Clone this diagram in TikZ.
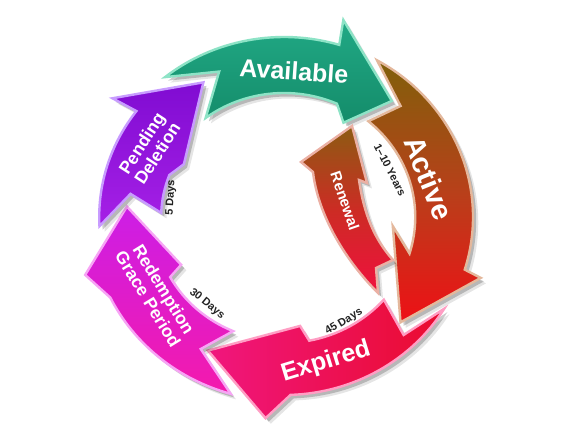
\documentclass[tikz,border=0pt]{standalone}
\usepackage{fontspec}
\setmainfont{Liberation Sans}
\definecolor{availT}{HTML}{21A985}
\definecolor{availB}{HTML}{148C6A}
\definecolor{rimA}{HTML}{8DE3C6}
\definecolor{actT}{HTML}{80600A}
\definecolor{actM}{HTML}{B8401A}
\definecolor{actB}{HTML}{EE1016}
\definecolor{rimAct}{HTML}{E4B89C}
\definecolor{expL}{HTML}{F0167E}
\definecolor{expR}{HTML}{EA0C2E}
\definecolor{rimExp}{HTML}{FF9EC4}
\definecolor{redT}{HTML}{CC1EE6}
\definecolor{redB}{HTML}{F41AAC}
\definecolor{rimRed}{HTML}{F7A4F5}
\definecolor{penT}{HTML}{800CD2}
\definecolor{penB}{HTML}{A620E6}
\definecolor{rimPen}{HTML}{C89CFF}
\definecolor{renT}{HTML}{8C5C12}
\definecolor{renM}{HTML}{CC2C24}
\definecolor{renB}{HTML}{F0103E}
\definecolor{rimRen}{HTML}{EBB0A4}
\definecolor{smalltxt}{HTML}{222222}

% ring arrows (polar, centre of ring)
\newcommand\ArrAvail[1]{\path[#1] (129:180) arc[start angle=129,end angle=73,radius=180] -- (74:205) -- (48.5:155) -- (59:110) -- (66:124) arc[start angle=66,end angle=127,radius=124] -- (113:158) -- cycle;}
\newcommand\ArrActive[1]{\path[#1] (60.5:180) arc[start angle=60.5,end angle=-17,radius=180] -- (-18:197) -- (-43.5:153) -- (-5:104) -- (-17:125) arc[start angle=-17,end angle=50,radius=125] -- (45:157) -- cycle;}
\newcommand\ArrExp[1]{\path[#1] (-31:178) arc[start angle=-31,end angle=-88,radius=178] -- (-95:202) -- (-118.5:152) -- (-82:110) -- (-79:126) arc[start angle=-79,end angle=-41,radius=126] -- (-46:164) -- cycle;}
\newcommand\ArrRed[1]{\path[#1] (-106:184) arc[start angle=-106,end angle=-154,radius=184] -- (-163:198) -- (-184:150) -- (-154:109) -- (-151:124) arc[start angle=-151,end angle=-113,radius=124] -- (-121:154) -- cycle;}
\newcommand\ArrPen[1]{\path[#1] (183:176) arc[start angle=183,end angle=143,radius=176] -- (144:202) -- (119.7:155) -- (151:109) -- (159:117) arc[start angle=159,end angle=178,radius=117] -- (171:148) -- cycle;}
\newcommand\ArrRen[1]{\path[#1] (352,303) -- (367,246) -- (359,249) .. controls (364,214) and (375,189) .. (393,169) -- (376,161) -- (378,136) .. controls (345,169) and (318,214) .. (313,257) -- (301,267) -- cycle;}

\begin{document}
\begin{tikzpicture}[x=1pt,y=1pt,
  shd/.style={fill=black,fill opacity=0.2,xshift=3pt,yshift=-3.5pt},
  shdb/.style={fill=black,fill opacity=0.1,xshift=5pt,yshift=-5.5pt},
  rim/.style={line width=2.4pt,line join=miter,miter limit=6},
  availst/.style={rim,draw=rimA,top color=availT,bottom color=availB},
  activest/.style={rim,draw=rimAct,top color=actT,bottom color=actB,middle color=actM},
  expst/.style={rim,draw=rimExp,left color=expL,right color=expR},
  redst/.style={rim,draw=rimRed,top color=redT,bottom color=redB},
  penst/.style={rim,draw=rimPen,top color=penT,bottom color=penB},
  renst/.style={rim,draw=rimRen,top color=renT,bottom color=renB,middle color=renM},
  biglab/.style={text=white,inner sep=0pt,font=\bfseries},
  twolab/.style={text=white,inner sep=0pt,align=center,font=\fontsize{17.5}{18.5}\selectfont\bfseries},
  smalllab/.style={text=smalltxt,font=\fontsize{11}{11}\selectfont\bfseries,inner sep=0pt}]
\useasboundingbox (0,0) rectangle (573,429);
\fill[white] (0,0) rectangle (573,429);

\begin{scope}[shift={(284,212)},xscale=1.05]
  \ArrAvail{shdb}\ArrAvail{shd}\ArrAvail{availst}
  \ArrActive{shdb}\ArrActive{shd}\ArrActive{activest}
  \ArrExp{shdb}\ArrExp{shd}\ArrExp{expst}
  \ArrRed{shdb}\ArrRed{shd}\ArrRed{redst}
  \ArrPen{shdb}\ArrPen{shd}\ArrPen{penst}
\end{scope}
\ArrRen{shdb}\ArrRen{shd}\ArrRen{renst}

\node[biglab,font=\fontsize{25}{25}\selectfont\bfseries,rotate=-4] (avail) at (294,358) {Available};
\node[biglab,font=\fontsize{29}{29}\selectfont\bfseries,rotate=-68] (active) at (429,251) {Active};
\node[biglab,font=\fontsize{25}{25}\selectfont\bfseries,rotate=17] (exp) at (326,67) {Expired};
\node[twolab,rotate=57] (pen) at (149.5,280.5) {Pending\\Deletion};
\node[twolab,rotate=-58.5] (rdm) at (156,135) {Redemption\\Grace Period};
\node[biglab,font=\fontsize{15}{15}\selectfont\bfseries,rotate=-71] (ren) at (345,228) {Renewal};

\node[smalllab,rotate=-63] (yrs) at (390,259) {1–10 Years};
\node[smalllab,rotate=31] (d45) at (344,107) {45 Days};
\node[smalllab,rotate=-39] (d30) at (207,125) {30 Days};
\node[smalllab,rotate=87] (d5) at (171,231) {5 Days};
\end{tikzpicture}
\end{document}
